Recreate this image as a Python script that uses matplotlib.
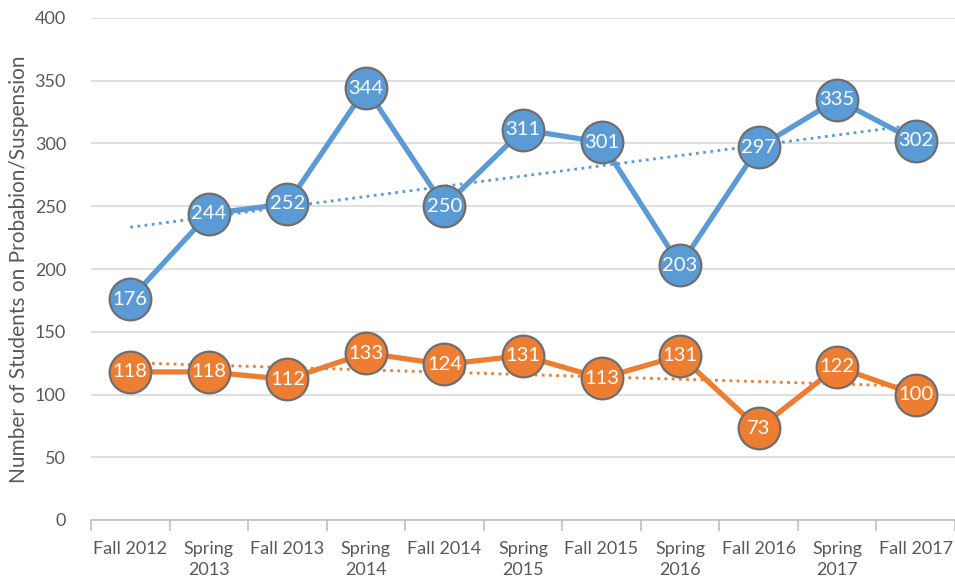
import matplotlib
matplotlib.use("Agg")
import matplotlib.pyplot as plt
import numpy as np

categories = ["Fall 2012", "Spring\n2013", "Fall 2013", "Spring\n2014", "Fall 2014",
              "Spring\n2015", "Fall 2015", "Spring\n2016", "Fall 2016", "Spring\n2017", "Fall 2017"]
probation = [176, 244, 252, 344, 250, 311, 301, 203, 297, 335, 302]
suspension = [118, 118, 112, 133, 124, 131, 113, 131, 73, 122, 100]

plt.rcParams['font.family'] = ['Lato', 'DejaVu Sans']

fig = plt.figure(figsize=(9.55, 5.84), dpi=100)
ax = fig.add_axes([91/955, 1-520/584, 1-91/955, (520-18)/584])

x = np.arange(len(categories))
blue = "#5B9BD5"
orange = "#ED7D31"
edge = "#6E6E6E"

for vals, col in [(probation, blue), (suspension, orange)]:
    ax.plot(x, vals, color=col, lw=3.8, zorder=3, solid_capstyle='round')
    coef = np.polyfit(x, vals, 1)
    ax.plot(x, np.polyval(coef, x), color=col, lw=2.0, ls=(0, (1, 1.6)), zorder=4)
    ax.plot(x, vals, ls='none', marker='o', ms=30, mfc=col, mec=edge, mew=1.6, zorder=5)
    for xi, v in zip(x, vals):
        ax.text(xi, v, str(v), color='white', ha='center', va='center', fontsize=14.5, zorder=6)

ax.set_xlim(-0.5, len(categories) - 0.5)
ax.set_ylim(0, 400)
ax.set_yticks(np.arange(0, 401, 50))
ax.grid(axis='y', color='#D9D9D9', lw=1.2, zorder=0)
ax.set_axisbelow(True)

ax.set_xticks(x)
ax.set_xticklabels(categories, fontsize=13, color='#595959', linespacing=1.4, va='top')
ax.set_xticks(np.arange(-0.5, len(categories)), minor=True)
ax.tick_params(axis='x', which='major', length=0, pad=15)
ax.tick_params(axis='x', which='minor', length=8, color='#BFBFBF', width=1.2)
ax.tick_params(axis='y', length=0, labelsize=13, labelcolor='#595959', pad=18)

for s in ['top', 'right', 'left']:
    ax.spines[s].set_visible(False)
ax.spines['bottom'].set_color('#BFBFBF')
ax.spines['bottom'].set_linewidth(1.2)

ax.set_ylabel("Number of Students on Probabion/Suspension", fontsize=15, color='#595959')
ax.yaxis.set_label_coords(-0.072, 0.5)

fig.savefig("out.png", dpi=100)
